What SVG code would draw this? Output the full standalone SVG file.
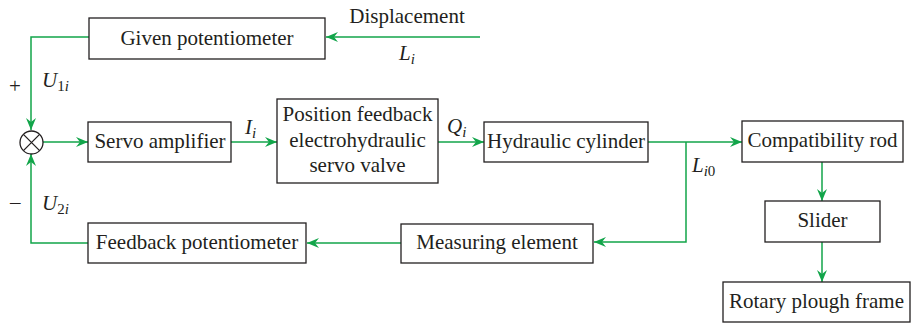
<svg xmlns="http://www.w3.org/2000/svg" width="912" height="323" viewBox="0 0 912 323">
<style>
.box{fill:#fff;stroke:#231f20;stroke-width:1.3}
.t{font-family:"Liberation Serif","Times New Roman",serif;font-size:21px;fill:#231f20;text-anchor:middle}
.l{font-family:"Liberation Serif","Times New Roman",serif;font-size:21px;fill:#231f20}
.it{font-style:italic}
.sub{font-size:15px}
.c{fill:none;stroke:#12a54a;stroke-width:1.5}
.a{marker-end:url(#ah)}
</style>
<defs>
<marker id="ah" viewBox="0 0 12 10" refX="12" refY="5" markerWidth="12" markerHeight="10" markerUnits="userSpaceOnUse" orient="auto">
<path d="M0,0 L12,5 L0,10 L4,5 z" fill="#12a54a"/>
</marker>
</defs>
<rect width="912" height="323" fill="#fff"/>
<g id="connectors">
<path class="c a" d="M480,37 H326"/>
<path class="c a" d="M89,37 H31 V130"/>
<path class="c a" d="M43,142 H88"/>
<path class="c a" d="M231,142 H277"/>
<path class="c a" d="M438,142 H484"/>
<path class="c a" d="M648,142 H742"/>
<path class="c a" d="M686,142 V242 H594"/>
<path class="c a" d="M401,243 H307"/>
<path class="c a" d="M88,243 H31 V154"/>
<path class="c a" d="M822,162 V201"/>
<path class="c a" d="M822,242 V282"/>
</g>
<g id="sum">
<circle cx="31.5" cy="142.5" r="11.5" fill="#fff" stroke="#231f20" stroke-width="1.3"/>
<path d="M23.4,134.4 L39.6,150.6 M39.6,134.4 L23.4,150.6" stroke="#231f20" stroke-width="1.3"/>
</g>
<g id="given">
<rect class="box" x="89" y="18" width="236" height="41"/>
<text class="t" x="207" y="45">Given potentiometer</text>
</g>
<g id="servo">
<rect class="box" x="88" y="122" width="143" height="40"/>
<text class="t" x="160" y="148">Servo amplifier</text>
</g>
<g id="valve">
<rect class="box" x="277" y="99" width="161" height="84"/>
<text class="t" x="357.5" y="121">Position feedback</text>
<text class="t" x="357.5" y="147">electrohydraulic</text>
<text class="t" x="357.5" y="172">servo valve</text>
</g>
<g id="cylinder">
<rect class="box" x="484" y="122" width="164" height="40"/>
<text class="t" x="566" y="148">Hydraulic cylinder</text>
</g>
<g id="rod">
<rect class="box" x="742" y="121" width="161" height="41"/>
<text class="t" x="822.5" y="147">Compatibility rod</text>
</g>
<g id="slider">
<rect class="box" x="765" y="201" width="115" height="41"/>
<text class="t" x="822.5" y="227">Slider</text>
</g>
<g id="frame">
<rect class="box" x="723" y="282" width="187" height="40"/>
<text class="t" x="816.5" y="308">Rotary plough frame</text>
</g>
<g id="measuring">
<rect class="box" x="401" y="224" width="192" height="39"/>
<text class="t" x="497" y="249">Measuring element</text>
</g>
<g id="feedback">
<rect class="box" x="88" y="223" width="218" height="40"/>
<text class="t" x="197" y="249">Feedback potentiometer</text>
</g>
<g id="labels">
<text class="t" x="407" y="23">Displacement</text>
<text class="l" x="399" y="60"><tspan class="it">L</tspan><tspan class="it sub" dy="4">i</tspan></text>
<text class="l" x="9" y="93">+</text>
<text class="l" x="42" y="87"><tspan class="it">U</tspan><tspan class="sub" dy="4">1</tspan><tspan class="it sub">i</tspan></text>
<text class="l" x="10" y="209">–</text>
<text class="l" x="42" y="210"><tspan class="it">U</tspan><tspan class="sub" dy="4">2</tspan><tspan class="it sub">i</tspan></text>
<text class="l" x="245" y="134"><tspan class="it">I</tspan><tspan class="it sub" dy="4">i</tspan></text>
<text class="l" x="447" y="133"><tspan class="it">Q</tspan><tspan class="it sub" dy="4">i</tspan></text>
<text class="l" x="692" y="172"><tspan class="it">L</tspan><tspan class="it sub" dy="4">i</tspan><tspan class="sub">0</tspan></text>
</g>
</svg>
